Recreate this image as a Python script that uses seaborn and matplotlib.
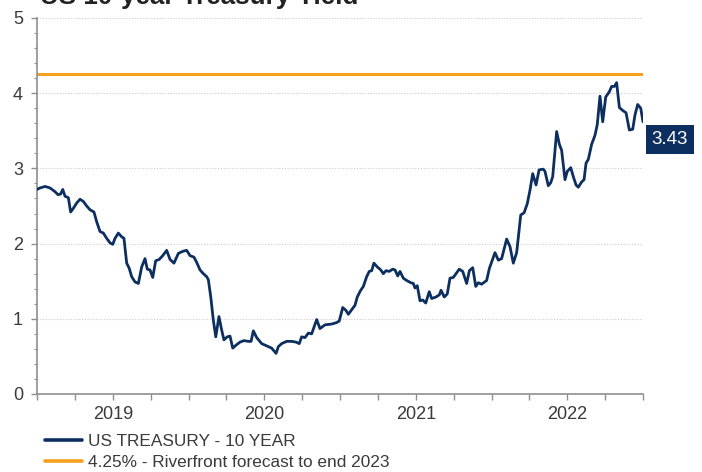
import matplotlib
matplotlib.use('Agg')
import matplotlib.pyplot as plt
import seaborn as sns
import pandas as pd

# ---- data ----
year_pos = [
    2019.000, 2019.020, 2019.053, 2019.086, 2019.119, 2019.139, 2019.156, 2019.170, 2019.185, 2019.207,
    2019.222, 2019.240, 2019.262, 2019.284, 2019.306, 2019.328, 2019.350, 2019.376, 2019.394, 2019.416,
    2019.438, 2019.460, 2019.482, 2019.500, 2019.515, 2019.537, 2019.559, 2019.574, 2019.592, 2019.609,
    2019.625, 2019.647, 2019.669, 2019.691, 2019.713, 2019.728, 2019.746, 2019.764, 2019.783, 2019.807,
    2019.830, 2019.856, 2019.878, 2019.904, 2019.933, 2019.966, 2019.988, 2020.010,
    2020.036, 2020.054, 2020.076, 2020.098, 2020.120, 2020.131, 2020.147, 2020.164, 2020.180, 2020.201,
    2020.219, 2020.234, 2020.256, 2020.274, 2020.292, 2020.314, 2020.340, 2020.366, 2020.395, 2020.413,
    2020.428, 2020.450, 2020.483, 2020.516, 2020.549, 2020.578, 2020.593, 2020.615, 2020.648, 2020.681,
    2020.710, 2020.731, 2020.747, 2020.769, 2020.791, 2020.813, 2020.846, 2020.868, 2020.901, 2020.945,
    2020.978, 2020.995,
    2021.018, 2021.040, 2021.055, 2021.077, 2021.099, 2021.114, 2021.137, 2021.154, 2021.176, 2021.193,
    2021.209, 2021.224, 2021.246, 2021.269, 2021.286, 2021.304, 2021.325, 2021.348, 2021.363, 2021.381,
    2021.396, 2021.418, 2021.440, 2021.467, 2021.484, 2021.495, 2021.510, 2021.528, 2021.546, 2021.566,
    2021.589, 2021.605, 2021.634, 2021.656, 2021.667, 2021.688, 2021.708, 2021.726, 2021.748, 2021.766,
    2021.787, 2021.810, 2021.836, 2021.854, 2021.876, 2021.896, 2021.913, 2021.935, 2021.968, 2021.986,
    2022.023, 2022.045, 2022.067, 2022.100, 2022.122, 2022.144, 2022.166, 2022.193, 2022.215, 2022.236,
    2022.254, 2022.272, 2022.294, 2022.314, 2022.342, 2022.353, 2022.375, 2022.391, 2022.404, 2022.430,
    2022.448, 2022.463, 2022.485, 2022.500, 2022.523, 2022.540, 2022.558, 2022.573, 2022.595, 2022.611,
    2022.624, 2022.639, 2022.661, 2022.683, 2022.698, 2022.716, 2022.734, 2022.754, 2022.778, 2022.793,
    2022.811, 2022.826, 2022.844, 2022.866, 2022.888, 2022.910, 2022.932, 2022.947, 2022.965, 2022.985,
    2023.000,
]
yield_pct = [
    2.72, 2.74, 2.76, 2.74, 2.69, 2.65, 2.66, 2.72, 2.63, 2.61,
    2.42, 2.47, 2.54, 2.59, 2.56, 2.50, 2.45, 2.42, 2.29, 2.16,
    2.14, 2.07, 2.01, 1.99, 2.07, 2.14, 2.09, 2.07, 1.74, 1.67,
    1.56, 1.49, 1.47, 1.69, 1.80, 1.66, 1.65, 1.55, 1.77, 1.79,
    1.84, 1.91, 1.79, 1.74, 1.87, 1.90, 1.91, 1.84,
    1.82, 1.75, 1.65, 1.60, 1.56, 1.52, 1.29, 0.98, 0.76, 1.03,
    0.85, 0.72, 0.76, 0.77, 0.61, 0.65, 0.69, 0.71, 0.70, 0.70,
    0.84, 0.75, 0.67, 0.64, 0.61, 0.54, 0.63, 0.67, 0.70, 0.70,
    0.69, 0.67, 0.76, 0.75, 0.81, 0.80, 0.99, 0.87, 0.92, 0.93,
    0.95, 0.97,
    1.15, 1.11, 1.06, 1.12, 1.18, 1.29, 1.38, 1.43, 1.56, 1.63,
    1.64, 1.74, 1.69, 1.65, 1.60, 1.64, 1.63, 1.66, 1.65, 1.57,
    1.63, 1.54, 1.51, 1.48, 1.47, 1.41, 1.44, 1.24, 1.25, 1.21,
    1.36, 1.27, 1.29, 1.32, 1.38, 1.29, 1.33, 1.54, 1.55, 1.60,
    1.66, 1.63, 1.47, 1.64, 1.68, 1.43, 1.48, 1.46, 1.51, 1.67,
    1.88, 1.78, 1.80, 2.06, 1.96, 1.74, 1.88, 2.38, 2.41, 2.53,
    2.71, 2.93, 2.78, 2.98, 2.99, 2.96, 2.77, 2.81, 2.89, 3.49,
    3.32, 3.24, 2.85, 2.96, 3.01, 2.89, 2.78, 2.75, 2.82, 2.85,
    3.07, 3.12, 3.32, 3.44, 3.58, 3.96, 3.62, 3.95, 4.02, 4.09,
    4.09, 4.14, 3.81, 3.77, 3.74, 3.51, 3.52, 3.71, 3.85, 3.80,
    3.62,
]
forecast_level = 4.25
latest_label = "3.43"
latest_value = 3.43
year_labels = ["2019", "2020", "2021", "2022"]
year_label_pos = [2019.5, 2020.5, 2021.5, 2022.5]
series_name = "US TREASURY - 10 YEAR"
forecast_name = "4.25% - Riverfront forecast to end 2023"
title_text = "US 10-year Treasury Yield"

NAVY = "#0c2f5f"
ORANGE = "#f5a31c"
GRID = "#cccccc"
SPINE = "#8f8f8f"
TXT = "#3a3a3a"

sns.set_theme(style="white")
plt.rcParams["font.family"] = ["Liberation Sans", "DejaVu Sans"]

W, H = 702, 472
fig = plt.figure(figsize=(W / 100, H / 100), dpi=100)
ax = fig.add_axes([37 / W, 78 / H, 606 / W, 376 / H])

df = pd.DataFrame({"year": year_pos, "yield": yield_pct})
sns.lineplot(data=df, x="year", y="yield", ax=ax, color=NAVY, linewidth=2.0,
             sort=False, label=series_name, zorder=3)
ax.axhline(forecast_level, color=ORANGE, linewidth=2.2, label=forecast_name, zorder=2)

handles, labels = ax.get_legend_handles_labels()
if ax.get_legend() is not None:
    ax.get_legend().remove()

ax.set_xlim(2019, 2023)
ax.set_ylim(0, 5)
ax.set_xlabel("")
ax.set_ylabel("")

# x axis: quarterly ticks, year labels centred in each year
ax.xaxis.remove_overlapping_locs = False
quarters = [2019 + 0.25 * i for i in range(17)]
ax.set_xticks(quarters)
ax.set_xticklabels([])
ax.set_xticks(year_label_pos, minor=True)
ax.set_xticklabels(year_labels, minor=True)
ax.tick_params(axis="x", which="major", direction="out", length=4.5, width=1.0,
               color=SPINE, bottom=True)
ax.tick_params(axis="x", which="minor", length=0, pad=8.5, labelsize=13,
               labelcolor=TXT, bottom=True, labelbottom=True)

# y axis
ax.set_yticks([0, 1, 2, 3, 4, 5])
ax.set_yticks([i * 0.2 for i in range(26)], minor=True)
ax.tick_params(axis="y", which="major", direction="out", length=4, width=1.0,
               color=SPINE, left=True, pad=6, labelsize=13, labelcolor=TXT)
ax.tick_params(axis="y", which="minor", direction="out", length=2.5, width=0.8,
               color=SPINE, left=True)

ax.yaxis.grid(True, which="major", color=GRID, linestyle=(0, (1, 1.5)), linewidth=0.8)
ax.xaxis.grid(False)
for s in ["top", "right"]:
    ax.spines[s].set_visible(False)
for s in ["left", "bottom"]:
    ax.spines[s].set_color(SPINE)
    ax.spines[s].set_linewidth(1.2)

# latest value box
ax.annotate(latest_label, xy=(1.0, latest_value), xycoords=("axes fraction", "data"),
            xytext=(19.4, -2.7), textcoords="offset points", ha="center", va="center",
            fontsize=13.5, color="white", annotation_clip=False,
            bbox=dict(boxstyle="square,pad=0.32", facecolor=NAVY, edgecolor="none"))

# legend
leg = fig.legend(handles, labels, loc="upper left", bbox_to_anchor=(45 / W, 1 - 434 / H),
                 bbox_transform=fig.transFigure, frameon=False, fontsize=12.4,
                 handlelength=2.15, handletextpad=0.35, labelspacing=0.33,
                 borderpad=0, borderaxespad=0)
for t in leg.get_texts():
    t.set_color(TXT)
for l in leg.get_lines():
    l.set_linewidth(2.6)

# partially visible title at the very top (cut off as in the reference)
fig.text(40 / W, 1 - 4 / H, title_text, fontsize=18.7, fontweight="bold",
         color="#222222", ha="left", va="baseline")

fig.savefig("out.png", dpi=100)
